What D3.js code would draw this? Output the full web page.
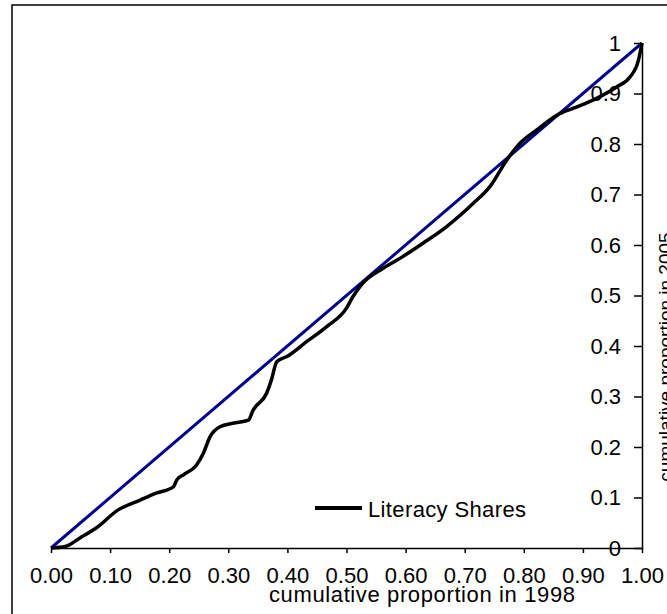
<!DOCTYPE html>
<html>
<head>
<meta charset="utf-8">
<script src="https://cdn.jsdelivr.net/npm/d3@7"></script>
<style>
  body { margin: 0; background: #fff; }
  text { font-family: "Liberation Sans", Arial, sans-serif; fill: #000; }
</style>
</head>
<body>
<div id="chart"></div>
<script>
//data
var xTicks = [0, 0.1, 0.2, 0.3, 0.4, 0.5, 0.6, 0.7, 0.8, 0.9, 1];
var yTicks = [0, 0.1, 0.2, 0.3, 0.4, 0.5, 0.6, 0.7, 0.8, 0.9, 1];
var equality = [0, 1];
var literacyX = [0, 0.024, 0.049, 0.077, 0.113, 0.151, 0.179, 0.207, 0.213, 0.224,
    0.246, 0.258, 0.269, 0.286, 0.308, 0.334, 0.342, 0.365, 0.373, 0.382,
    0.399, 0.433, 0.466, 0.500, 0.511, 0.528, 0.562, 0.591, 0.630, 0.669,
    0.715, 0.743, 0.771, 0.794, 0.822, 0.856, 0.884, 0.917, 0.957, 0.980,
    0.994, 1.0];
var literacyY = [0, 0.003, 0.02, 0.04, 0.075, 0.095, 0.109, 0.121, 0.135, 0.145,
    0.164, 0.188, 0.220, 0.240, 0.247, 0.253, 0.273, 0.307, 0.333, 0.369,
    0.379, 0.409, 0.438, 0.475, 0.498, 0.525, 0.554, 0.574, 0.604, 0.636,
    0.683, 0.716, 0.768, 0.802, 0.828, 0.857, 0.871, 0.887, 0.913, 0.933,
    0.966, 1.0];

//general setup
var width = 667,
    height = 614;

var xScale = d3.scaleLinear()
    .domain([0, 1])
    .range([51, 642]);

var yScale = d3.scaleLinear()
    .domain([0, 1])
    .range([548, 43]);

var svg = d3.select("#chart").append("svg")
    .attr("width", width)
    .attr("height", height);

//outer frame
svg.append("rect")
    .attr("x", 12)
    .attr("y", 5)
    .attr("width", 800)
    .attr("height", 800)
    .attr("fill", "none")
    .attr("stroke", "#000")
    .attr("stroke-width", 1.5);

//x axis
var xAxis = svg.append("g")
    .attr("transform", "translate(0," + yScale(0) + ")")
    .call(d3.axisBottom(xScale)
        .tickValues(xTicks)
        .tickFormat(d3.format(".2f"))
        .tickSizeInner(5)
        .tickSizeOuter(0)
        .tickPadding(14));
xAxis.selectAll("path, line").attr("stroke", "#000").attr("stroke-width", 1.5);
xAxis.selectAll("text").style("font-size", "22px");

//y axis, on the right side with labels inside
var yAxis = svg.append("g")
    .attr("transform", "translate(" + xScale(1) + ",0)")
    .call(d3.axisLeft(yScale)
        .tickValues(yTicks)
        .tickFormat(function (d) { return (d === 0 || d === 1) ? String(d) : d.toFixed(1); })
        .tickSizeInner(8)
        .tickSizeOuter(0)
        .tickPadding(13));
yAxis.selectAll("path, line").attr("stroke", "#000").attr("stroke-width", 1.5);
yAxis.selectAll("text").style("font-size", "22px");

//axis labels
svg.append("text")
    .attr("x", 422)
    .attr("y", 602)
    .attr("text-anchor", "middle")
    .attr("textLength", 306)
    .style("font-size", "22px")
    .text("cumulative proportion in 1998");

svg.append("text")
    .attr("transform", "translate(672,357) rotate(-90)")
    .attr("text-anchor", "middle")
    .style("font-size", "19px")
    .text("cumulative proportion in 2005");

//lines
var line = d3.line()
    .x(function (d) { return xScale(d[0]); })
    .y(function (d) { return yScale(d[1]); });

svg.append("path")
    .attr("d", line(equality.map(function (v) { return [v, v]; })))
    .attr("stroke", "#00008b")
    .attr("stroke-width", 3)
    .attr("fill", "none");

svg.append("path")
    .attr("d", line.curve(d3.curveMonotoneX)(d3.zip(literacyX, literacyY)))
    .attr("stroke", "#000")
    .attr("stroke-width", 3.5)
    .attr("stroke-linejoin", "round")
    .attr("fill", "none");

//legend
svg.append("line")
    .attr("x1", 315)
    .attr("x2", 362)
    .attr("y1", 508)
    .attr("y2", 508)
    .attr("stroke", "#000")
    .attr("stroke-width", 4);

svg.append("text")
    .attr("x", 368)
    .attr("y", 517)
    .attr("textLength", 158)
    .style("font-size", "22px")
    .text("Literacy Shares");
</script>
</body>
</html>
